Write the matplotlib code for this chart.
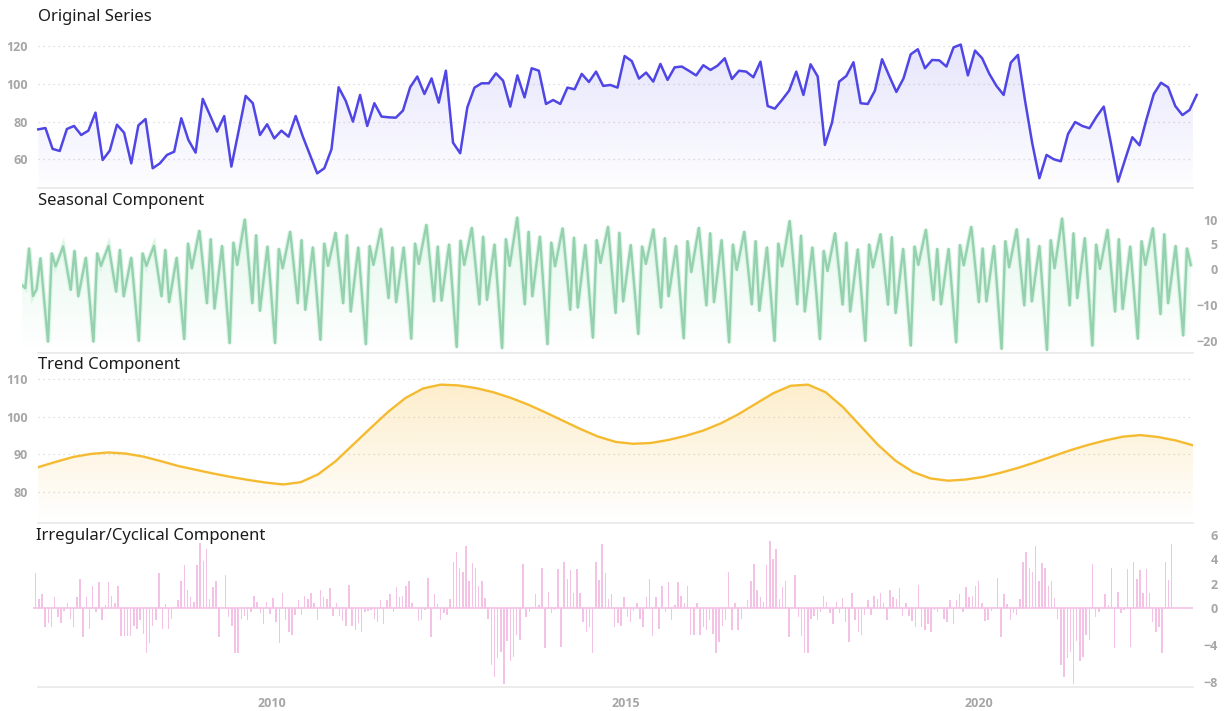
import numpy as np
import matplotlib
matplotlib.use("Agg")
import matplotlib.pyplot as plt
import matplotlib.colors as mcolors
from matplotlib.patches import Polygon

# ---------------- data ----------------
orig = [
    75.9, 76.6, 65.5, 64.4, 76.1, 77.7, 72.9, 75.2, 84.8, 59.6,
    64.6, 78.4, 74.1, 57.8, 78.0, 81.4, 55.2, 57.8, 62.3, 64.0,
    81.8, 70.2, 63.5, 92.1, 83.5, 74.7, 83.0, 56.1, 74.7, 93.7,
    89.8, 72.9, 78.6, 71.1, 75.2, 72.0, 83.0, 72.0, 62.3, 52.5,
    55.2, 65.3, 98.3, 91.0, 80.0, 94.2, 77.7, 89.8, 82.7, 82.3,
    82.1, 85.9, 98.3, 104.0,
    94.7, 103.0, 90.1, 107.1, 68.8, 63.2, 87.6, 98.1, 100.4, 100.4,
    105.7, 101.8, 88.0, 104.6, 92.9, 108.4, 107.1, 89.4, 91.5, 89.4,
    98.1, 97.2, 105.4, 101.1, 106.6, 99.0, 99.5, 98.1, 114.9, 112.2,
    102.9, 106.1, 101.3, 110.7, 102.2, 108.9, 109.3, 107.0, 104.6, 110.0,
    107.5, 109.8, 113.7, 102.7, 107.1, 106.6, 103.6, 111.9, 88.3, 86.9,
    91.5, 96.5, 106.6, 94.2, 110.5, 104.0,
    67.6, 79.5, 101.3, 104.3, 111.6, 89.8, 89.4, 96.5, 113.2, 104.3,
    95.8, 103.0, 115.8, 118.5, 108.4, 112.8, 112.6, 109.3, 119.5, 121.0,
    104.6, 117.8, 113.7, 105.4, 99.0, 94.2, 111.4, 115.5, 91.0, 68.5,
    49.9, 62.3, 60.0, 58.9, 73.4, 79.8, 77.7, 76.5, 82.7, 88.0,
    68.5, 48.1, 60.0, 71.7, 67.4, 81.6, 94.7, 100.7, 98.3, 88.3,
    83.5, 86.2, 94.2,
]

seasonal = [
    -4.4, -5.3, 4.2, -7.5, -5.6, 2.2, -8.8,
    -20.1, 3.2, 0.5, 2.5, 4.6, 0.1, -5.8, 3.7, -7.6, -2.3, 2.3, -8.4,
    -20.1, 3.2, 0.6, 2.7, 4.7, 0.0, -6.3, 3.9, -7.6, -2.3, 2.3, -8.4,
    -19.9, 3.2, 0.6, 2.7, 4.7, -0.6, -7.6, 3.9, -9.2, -3.0, 2.3, -8.1,
    -19.4, 5.2, 0.1, 4.0, 7.8, 0.4, -9.5, 6.1, -11.0, -2.3, 4.7, -7.1,
    -20.5, 5.4, 0.8, 5.5, 10.1, 1.6, -9.5, 6.9, -11.6, -2.7, 4.6, -7.2,
    -20.5, 4.1, 0.1, 3.9, 7.6, 0.3, -9.5, 5.9, -11.3, -2.7, 4.4, -6.9,
    -19.6, 5.2, 0.6, 4.0, 7.4, 0.2, -9.5, 6.9, -11.8, -2.9, 4.4, -7.5,
    -20.8, 4.7, 0.8, 4.5, 8.2, 1.1, -8.1, 4.4, -9.2, -1.7, 4.4, -6.4,
    -19.3, 5.2, 1.0, 5.0, 9.0, 1.2, -9.0, 4.6, -8.8, -1.0, 5.0, -7.4,
    -21.6, 5.8, 0.8, 4.6, 8.4, 0.6, -9.8, 6.6, -8.6, -0.9, 5.0, -7.6,
    -21.9, 6.1, 0.6, 5.6, 10.5, 1.7, -9.8, 7.6, -7.6, 0.5, 6.6, -5.9,
    -20.8, 5.4, 0.5, 4.4, 8.3, 0.0, -11.3, 6.4, -10.7, -2.0, 4.9, -6.2,
    -19.0, 5.9, 1.2, 4.9, 8.6, -0.3, -12.2, 7.4, -9.0, -1.2, 4.9, -5.7,
    -18.0, 4.6, 1.0, 4.5, 8.1, 0.1, -10.7, 6.3, -7.6, -0.6, 4.7, -6.4,
    -19.2, 5.7, -0.9, 3.9, 8.4, 0.5, -10.1, 7.3, -9.2, -0.6, 5.9, -6.1,
    -20.3, 5.0, -0.3, 3.7, 7.6, 0.2, -9.8, 5.7, -11.6, -2.9, 4.4, -7.0,
    -19.9, 5.2, 0.5, 5.1, 9.8, 1.3, -9.8, 6.8, -11.8, -2.9, 4.4, -6.1,
    -19.4, 3.7, -0.6, 3.4, 7.3, 0.0, -9.9, 5.4, -11.8, -3.2, 4.0, -7.2,
    -19.9, 5.0, 0.3, 3.7, 7.1, -0.2, -9.9, 6.5, -12.2, -3.4, 4.1, -7.8,
    -21.2, 4.6, 0.8, 4.4, 8.0, 0.8, -8.6, 4.1, -9.8, -2.1, 4.1, -7.4,
    -20.3, 4.9, 0.7, 4.7, 8.6, 0.9, -9.2, 4.2, -9.0, -1.3, 4.7, -7.9,
    -22.1, 5.7, 0.3, 4.2, 8.1, 0.3, -10.1, 6.1, -9.0, -1.3, 4.7, -8.0,
    -22.4, 5.9, 0.1, 5.2, 10.3, 1.4, -10.1, 7.3, -8.1, 0.1, 6.3, -6.4,
    -21.2, 5.0, 0.0, 4.0, 8.0, -0.5, -11.8, 6.1, -11.1, -2.5, 4.6, -6.6,
    -19.3, 5.7, 0.8, 4.6, 8.3, -0.6, -12.5, 7.1, -9.5, -1.6, 4.7, -6.0,
    -18.4, 4.2, 0.8,
]

trend = [
    86.6, 88.0, 89.3, 90.1, 90.5, 90.2, 89.4, 88.2, 86.9, 85.9,
    84.9, 84.0, 83.2, 82.5, 82.0, 82.6, 84.7, 88.2, 92.6, 97.0,
    101.3, 105.0, 107.5, 108.5, 108.3, 107.6, 106.5, 105.0, 103.2, 101.1,
    98.9, 96.7, 94.7, 93.3, 92.8, 93.0, 93.8, 94.9, 96.3, 98.2,
    100.6, 103.4, 106.2, 108.2, 108.5, 106.5, 102.5, 97.5, 92.5, 88.3,
    85.3, 83.6, 83.0, 83.3, 84.0, 85.1, 86.4, 87.9, 89.5, 91.1,
    92.5, 93.7, 94.7, 95.1, 94.6, 93.7, 92.4,
]

irregular = [
    2.9, 0.7, 1.1, -2.1, -1.7, -2.1, 0.9, -1.0, -1.6, -0.4,
    0.4, -1.2, -2.1, 0.9, 2.4, -3.2, 0.9, -2.3, 1.8, -0.5,
    2.1, -1.3, 0.2, 2.1, 1.0, 0.4, 1.8, -3.1, -3.1, -3.1,
    -3.1, -2.0, -2.3, -1.3, -2.8, -4.9, -3.8, -2.0, -1.3, 2.9,
    -2.3, 0.3, -2.3, -1.2, 0.1, 0.6, 2.2, 3.5, 1.5, 0.9,
    0.5, 3.5, 5.4, 3.9, 4.9, 0.7, 1.7, 2.2, -3.2, 0.0,
    2.7, -1.0, -2.0, -4.9, -4.9, -1.2, -0.9, -1.3, -0.5, 1.0,
    0.5, -0.6, -1.8, 0.5, -0.7, 0.8, -1.5, -3.8, 1.2, -1.3,
    -2.6, -3.0, -0.8, 0.6, -0.8, 1.0, 0.7, 1.2, 0.4, -1.3,
    1.5, 0.9, 0.7, 1.6, -0.9, 0.4, -0.9, -1.4, -2.0, 1.9,
    -2.0, -2.4, -1.7, -2.6, -0.5, -0.4, -0.2, -1.2, -1.5, 0.6,
    -1.8, 0.6, 1.1, -0.5, 1.7, 0.9, 1.0, 1.8, 2.2, 0.4,
    0.1, -1.4,
    -1.3, -0.3, 2.5, -3.2, 1.1, 0.3, -1.3, -0.6, -0.8, 0.7,
    3.8, 4.6, 3.3, 3.0, 5.1, 2.2, 3.7, 3.3, 1.8, 2.2,
    0.8, -1.2, -6.2, -7.5, -5.4, -4.8, -8.2, -3.6, -5.8, -5.3,
    -3.0, -3.5, 3.6, -1.0, -0.5, 0.1, 1.1, 0.2, 3.3, -4.4,
    1.3, -0.6, -0.25, 3.2, -4.2, 3.8, 2.4, 3.1, 1.2, 3.2,
    1.2, -1.5, -2.6, -2.1, -4.9, 3.8, 2.3, 5.3, 2.9, 0.7,
    1.1, -2.1, -1.7, -2.0, 0.9, -1.0, -1.5, -0.4, 0.4, -1.2,
    -2.1, 0.9, 2.4, -3.1, 0.9, -2.3, 1.8, -0.5, 2.1, -1.3,
    0.2, 2.1, 1.0, 0.4, 1.8, -3.0, -3.0, 0.4, -3.0, -2.1,
    -2.4, -1.3, -2.8, -4.9, -3.7, -2.0, -1.3, 3.0, -2.4, 0.4,
    -2.4, -1.2, 0.1, 0.6, 2.2, 3.6, 1.5, 0.9, 0.5, 3.5,
    5.5, 4.0, 4.9, 0.7, 1.7, 2.2, -3.2, 0.0, 2.7, -1.0,
    -3.1, -4.9, -4.9, -1.2, -0.9, -1.3,
    -0.5, 1.0, 0.5, -0.6, -1.8, 0.5, -0.6, 0.8, -1.5, -3.7,
    1.2, -1.3, -2.6, -3.0, -0.8, 0.6, -0.8, 1.0, 0.7, 1.2,
    0.4, -1.3, 1.5, 0.9, 0.7, 1.6, -0.9, 0.4, -0.9, -1.4,
    -2.1, 1.9, -2.1, -2.4, -1.8, -2.6, -0.3, -0.5, 0.1, -1.2,
    -1.5, 0.6, -1.8, 0.6, 1.1, -0.5, 1.7, 0.9, 1.0, 1.8,
    2.2, 0.4, -1.4, -1.3, -0.4, 0.1, 2.5, -3.2, 1.1, 0.3,
    -1.3, -0.6, -0.8, 0.7,
    3.8, 4.6, 3.3, 3.0, 5.1, 2.2, 3.7, 3.3, 1.8, 2.2,
    0.8, -1.2, -6.2, -7.5, -5.4, -4.8, -8.2, -3.6, -5.8, -5.3,
    -3.0, -3.5, 3.6, -1.0, -0.5, 0.1, 1.1, 0.2, 3.3, -4.4,
    1.3, -0.6, -0.25, 3.2, -4.2, 3.8, 2.4, 3.1, 1.2, 3.2,
    1.2, -1.5, -2.6, -2.1, -4.9, 3.8, 2.3, 5.3,
]

# time span of every series, decimal years
orig_span = (2006.700, 2023.078)
seas_span = (2006.463, 2022.994)
trend_span = (2006.700, 2023.025)
irr_span = (2006.663, 2022.724)
year_ticks = [2010, 2015, 2020]

orig_t = np.linspace(*orig_span, len(orig))
seas_t = np.linspace(*seas_span, len(seasonal))
trend_t = np.linspace(*trend_span, len(trend))
irr_t = np.linspace(*irr_span, len(irregular))

# ---------------- layout helpers ----------------
W, H = 1232, 711
X2010, PX_PER_YEAR = 271.7, 70.73
PLOT_L, PLOT_R = 38.3, 1193.0
TICK_C = "#a6a6a6"
TICK_FONT = dict(family="Open Sans", weight="bold", size=9)


def px2yr(px):
    return 2010 + (px - X2010) / PX_PER_YEAR


fig = plt.figure(figsize=(W / 100, H / 100), dpi=100)


def add_panel(top, bottom, left=PLOT_L, right=PLOT_R):
    ax = fig.add_axes([left / W, 1 - bottom / H, (right - left) / W, (bottom - top) / H])
    ax.patch.set_alpha(0)
    for s in ("top", "left", "right"):
        ax.spines[s].set_visible(False)
    ax.spines["bottom"].set_color("#e9e9e9")
    ax.spines["bottom"].set_linewidth(1.3)
    ax.spines["bottom"].set_bounds(px2yr(PLOT_L), px2yr(PLOT_R))
    ax.set_xticks([])
    ax.tick_params(length=0, labelcolor=TICK_C)
    return ax


def style_ticklabels(labels, **kw):
    for lb in labels:
        lb.set_fontfamily(TICK_FONT["family"])
        lb.set_fontweight(TICK_FONT["weight"])
        lb.set_fontsize(TICK_FONT["size"])
        for k, v in kw.items():
            getattr(lb, "set_" + k)(v)


def gradient_fill(ax, t, y, base, color, a_top, a_bot, z=1):
    verts = np.column_stack([np.r_[t[0], t, t[-1]], np.r_[base, y, base]])
    poly = Polygon(verts, closed=True, facecolor="none", edgecolor="none")
    ax.add_patch(poly)
    img = np.zeros((256, 1, 4))
    img[:, :, :3] = mcolors.to_rgb(color)
    img[:, 0, 3] = np.linspace(a_top, a_bot, 256)
    im = ax.imshow(img, extent=[0, 1, 0, 1], transform=ax.transAxes, aspect="auto",
                   origin="upper", interpolation="bilinear", zorder=z)
    im.set_clip_path(poly)


def split_scale(k_pos, k_neg):
    def fwd(v):
        v = np.asarray(v, dtype=float)
        return np.where(v >= 0, v * k_pos, v * k_neg)

    def inv(u):
        u = np.asarray(u, dtype=float)
        return np.where(u >= 0, u / k_pos, u / k_neg)
    return fwd, inv


def dotted_grid(ax):
    ax.yaxis.grid(True, linestyle=(0, (1, 3)), color="#d6d6d6", linewidth=0.9)
    ax.set_axisbelow(True)


# ---------------- original series ----------------
ax1 = add_panel(22, 188)
gradient_fill(ax1, orig_t, orig, 44.7, "#5b50ea", 0.17, 0.01)
ax1.plot(orig_t, orig, color="#4f46e5", lw=1.8, solid_joinstyle="round", zorder=3, clip_on=False)
ax1.set_yticks([60, 80, 100, 120])
dotted_grid(ax1)
ax1.tick_params(axis="y", pad=7.2)
style_ticklabels(ax1.get_yticklabels())

# ---------------- seasonal component ----------------
ax2 = add_panel(188, 353, left=21.5)
ax2.set_yscale("function", functions=split_scale(4.9, 3.62))
gradient_fill(ax2, seas_t, seasonal, -23.2, "#5fd38f", 0.2, 0.0)
ax2.plot(seas_t, seasonal, color="#dcf6e6", lw=3.4, solid_joinstyle="miter", zorder=2)
ax2.plot(seas_t, seasonal, color="#95d1ae", lw=1.7, solid_joinstyle="round", zorder=3)
ax2.yaxis.tick_right()
ax2.set_yticks([-20, -10, 0, 5, 10])
ax2.tick_params(axis="y", right=False, labelright=True, labelleft=False, pad=18)
style_ticklabels(ax2.get_yticklabels(), horizontalalignment="right")

# ---------------- trend component ----------------
ax3 = add_panel(353, 522.5)
gradient_fill(ax3, trend_t, trend, 71.9, "#f7bd3a", 0.32, 0.0)
ax3.plot(trend_t, trend, color="#f5bb30", lw=1.7, solid_joinstyle="round", zorder=3)
ax3.set_yticks([80, 90, 100, 110])
dotted_grid(ax3)
ax3.tick_params(axis="y", pad=7.2)
style_ticklabels(ax3.get_yticklabels())

# ---------------- irregular component ----------------
ax4 = add_panel(522.5, 686.7, left=33.0)
ax4.set_yscale("function", functions=split_scale(12.07, 9.25))
ax4.axhline(0, color="#f5c6e7", lw=1.3, zorder=2)
ax4.bar(irr_t, irregular, width=0.021, color="#f4c2e4", linewidth=0, zorder=3)
ax4.yaxis.tick_right()
ax4.set_yticks([-8, -4, 0, 2, 4, 6])
ax4.tick_params(axis="y", right=False, labelright=True, labelleft=False, pad=18)
style_ticklabels(ax4.get_yticklabels(), horizontalalignment="right")
ax4.set_xticks(year_ticks)
ax4.set_xticklabels([str(y) for y in year_ticks])
ax4.tick_params(axis="x", pad=7.5)
style_ticklabels(ax4.get_xticklabels())

# fix ranges after the gradient images are in place
for ax, left in ((ax1, PLOT_L), (ax2, 21.5), (ax3, PLOT_L), (ax4, 33.0)):
    ax.set_xlim(px2yr(left), px2yr(PLOT_R))
ax1.set_ylim(44.7, 133.0)
ax2.set_ylim(-23.2, 16.5)
ax3.set_ylim(71.9, 116.9)
ax4.set_ylim(-8.54, 7.06)

# ---------------- panel titles ----------------
title_kw = dict(family="Noto Sans", size=12, color="#1c1c1c", va="center", ha="left")
fig.text(38 / W, 1 - 17 / H, "Original Series", **title_kw)
fig.text(38 / W, 1 - 201 / H, "Seasonal Component", **title_kw)
fig.text(38.5 / W, 1 - 365 / H, "Trend Component", **title_kw)
fig.text(36 / W, 1 - 536 / H, "Irregular/Cyclical Component", **title_kw)

fig.savefig("out.png", dpi=100)
